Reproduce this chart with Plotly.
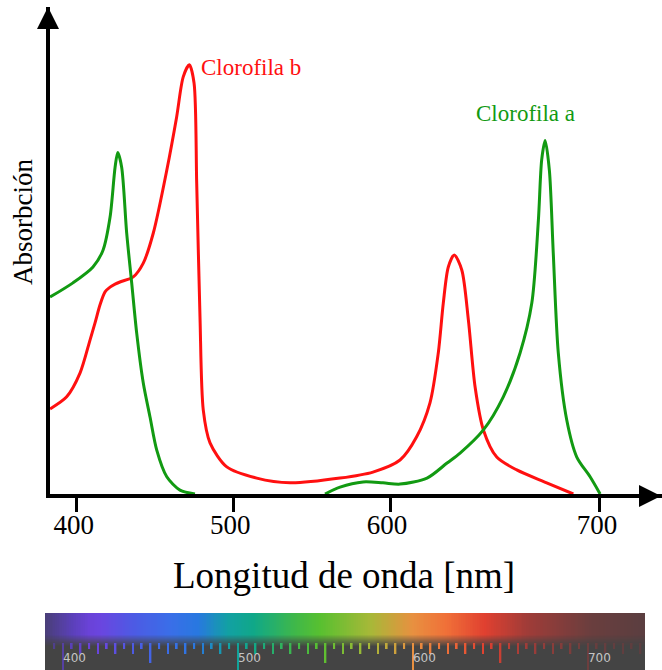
import plotly.graph_objects as go

# ---------------- data ----------------
# Chlorophyll a (green); None separates the two visible pieces
chl_a_nm = [383.0, 397.6, 410.4, 416.8, 421.3, 424.5, 426.2, 428.7, 431.9, 435.1,
            438.3, 442.5, 446.8, 451.1, 457.5, 465.9, 475.5, None,
            558.5, 568.1, 582.8, 595.5, 606.4, 623.6, 636.4, 644.7, 659.6, 672.3,
            683.0, 690.5, 694.7, 696.8, 699.0, 701.7, 704.2, 707.4, 712.8, 719.2,
            727.7, 734.1]
chl_a_abs = [0.458, 0.491, 0.528, 0.567, 0.644, 0.760, 0.794, 0.760, 0.607, 0.491,
             0.374, 0.258, 0.179, 0.102, 0.040, 0.009, 0.0, None,
             0.0, 0.016, 0.028, 0.026, 0.023, 0.037, 0.072, 0.095, 0.149, 0.226,
             0.328, 0.444, 0.637, 0.777, 0.822, 0.753, 0.560, 0.328, 0.172, 0.086,
             0.040, 0.0]

# Chlorophyll b (red)
chl_b_nm = [383.0, 393.6, 402.1, 408.5, 411.7, 414.9, 418.1, 421.3, 424.5, 427.6,
            436.1, 442.5, 448.9, 457.5, 463.8, 468.0, 471.9, 474.9, 476.6, 478.7,
            480.8, 485.1, 495.8, 514.9, 536.2, 568.1, 589.1, 606.4, 617.0, 625.5,
            630.8, 634.0, 637.2, 641.0, 645.8, 650.0, 654.3, 659.6, 668.1, 680.9,
            700.0, 717.0]
chl_b_abs = [0.198, 0.226, 0.281, 0.358, 0.398, 0.440, 0.470, 0.481, 0.488, 0.493,
             0.505, 0.537, 0.607, 0.753, 0.877, 0.970, 0.998, 0.956, 0.723, 0.412,
             0.195, 0.119, 0.063, 0.037, 0.026, 0.037, 0.051, 0.079, 0.133, 0.212,
             0.328, 0.444, 0.528, 0.556, 0.521, 0.405, 0.249, 0.149, 0.086, 0.056,
             0.026, 0.0]

# main axis ticks (positions as drawn in the picture)
axis_tick_vals = [400, 500, 600, 734]
axis_tick_labels = ["400", "500", "600", "700"]

# spectrum strip
spectrum_stops_nm = [390, 405, 415, 422, 440, 461, 477, 494, 509, 533, 547, 576,
                     600, 619, 641, 665, 702, 733]
spectrum_colors = ["#4a3f78", "#5a40b8", "#6a42d8", "#6a46e0", "#4d5ae4", "#3a6ee8",
                   "#2878e0", "#12a0a4", "#10a888", "#40b848", "#58c030", "#a8b838",
                   "#e89040", "#f07038", "#e04030", "#a03c38", "#6a3e3e", "#5a3e40"]
spectrum_label_vals = [400, 500, 600, 700]
spectrum_label_text = ["400", "500", "600", "700"]

# ---------------- figure ----------------
RED = "#ff1010"
GREEN = "#129a12"
SERIF = "Liberation Serif"

lo, hi = spectrum_stops_nm[0], spectrum_stops_nm[-1]
cscale = [[(v - lo) / (hi - lo), c] for v, c in zip(spectrum_stops_nm, spectrum_colors)]

strip_x = list(range(390, 734))
strip_rows = list(range(0, 58))
color_z = [[x for x in strip_x] for _ in strip_rows]


def shade(r):
    if r <= 24:
        return 1.0
    if r >= 36:
        return 0.0
    return (36 - r) / 12.0


shade_z = [[shade(r) for _ in strip_x] for r in strip_rows]

drip_x = list(range(395, 731, 5))
drip_len = [-(27 if v % 100 == 0 else 20 if v % 50 == 0 else 11 if v % 10 == 0 else 6)
            for v in drip_x]

fig = go.Figure()

fig.add_trace(go.Heatmap(x=strip_x, y=strip_rows, z=color_z, colorscale=cscale,
                         zmin=lo, zmax=hi, showscale=False, xaxis="x2", yaxis="y2",
                         hoverinfo="skip"))
fig.add_trace(go.Heatmap(x=strip_x, y=strip_rows, z=shade_z,
                         colorscale=[[0, "rgba(68,68,68,0)"], [1, "rgba(68,68,68,1)"]],
                         zmin=0, zmax=1, showscale=False, xaxis="x2", yaxis="y2",
                         hoverinfo="skip"))
fig.add_trace(go.Bar(x=drip_x, y=drip_len, base=27, width=1.0,
                     marker=dict(color=drip_x, colorscale=cscale, cmin=lo, cmax=hi,
                                 line=dict(width=0)),
                     xaxis="x2", yaxis="y2", showlegend=False, hoverinfo="skip"))

fig.add_trace(go.Scatter(x=chl_b_nm, y=chl_b_abs, mode="lines",
                         line=dict(color=RED, width=3, shape="spline", smoothing=0.8),
                         cliponaxis=False, showlegend=False, connectgaps=False))
fig.add_trace(go.Scatter(x=chl_a_nm, y=chl_a_abs, mode="lines",
                         line=dict(color=GREEN, width=3, shape="spline", smoothing=0.8),
                         cliponaxis=False, showlegend=False, connectgaps=False))

W, H = 662, 670
ML, MT = 44, 7
PW, PH = W - ML, H - MT


def px2paper_x(px):
    return (px - ML) / PW


def py2paper_y(py):
    return (H - py) / PH


fig.update_layout(
    width=W, height=H,
    margin=dict(l=ML, r=0, t=MT, b=0),
    paper_bgcolor="white", plot_bgcolor="rgba(0,0,0,0)",
    showlegend=False,
    xaxis=dict(domain=[px2paper_x(50), 1], range=[382.96, 773.6], anchor="y",
               showline=True, linecolor="black", linewidth=4,
               ticks="outside", ticklen=14, tickwidth=3, tickcolor="black",
               tickvals=axis_tick_vals, ticktext=axis_tick_labels,
               ticklabelstandoff=-10, ticklabelshift=-3,
               tickfont=dict(family=SERIF, size=27, color="black"),
               showgrid=False, zeroline=False),
    xaxis3=dict(overlaying="x", matches="x", anchor="y", side="bottom",
                ticks="inside", ticklen=13, tickwidth=3, tickcolor="black",
                tickvals=axis_tick_vals, showticklabels=False,
                showline=False, showgrid=False, zeroline=False),
    yaxis=dict(domain=[py2paper_y(494), 1], range=[0, 487 / 430], anchor="x",
               showline=True, linecolor="black", linewidth=4,
               showticklabels=False, ticks="", showgrid=False, zeroline=False),
    xaxis2=dict(domain=[px2paper_x(45), px2paper_x(645)], range=[389.7, 732.6],
                anchor="y2", showgrid=False, zeroline=False, showline=False, ticks="",
                tickvals=spectrum_label_vals, ticktext=spectrum_label_text,
                ticklabelposition="inside right",
                tickfont=dict(family="DejaVu Sans", size=12, color="#c4c4c4")),
    yaxis2=dict(domain=[0, py2paper_y(613)], range=[0, 57], anchor="x2",
                visible=False),
    annotations=[
        dict(text="Absorbción", xref="paper", yref="paper",
             x=px2paper_x(23), y=py2paper_y(222), textangle=-90, showarrow=False,
             font=dict(family=SERIF, size=27, color="black"),
             xanchor="center", yanchor="middle"),
        dict(text="Longitud de onda [nm]", xref="paper", yref="paper",
             x=px2paper_x(344), y=py2paper_y(575), showarrow=False,
             font=dict(family=SERIF, size=37, color="black"),
             xanchor="center", yanchor="middle"),
        dict(text="Clorofila b", xref="x", yref="y", x=478.1, y=0.991,
             showarrow=False, xanchor="left", yanchor="middle",
             font=dict(family=SERIF, size=23, color=RED)),
        dict(text="Clorofila a", xref="x", yref="y", x=653.6, y=0.886,
             showarrow=False, xanchor="left", yanchor="middle",
             font=dict(family=SERIF, size=23, color=GREEN)),
        dict(text="", xref="paper", yref="paper", x=px2paper_x(48), y=py2paper_y(7),
             showarrow=True, ax=0, ay=30, arrowhead=2, arrowsize=1.1, arrowwidth=4,
             arrowcolor="black"),
        dict(text="", xref="paper", yref="paper", x=px2paper_x(668), y=py2paper_y(496),
             showarrow=True, ax=-30, ay=0, arrowhead=2, arrowsize=1.1, arrowwidth=4,
             arrowcolor="black"),
    ],
)

fig.write_html("out.html", config={"displayModeBar": False},
               post_script="document.body.style.margin='0';document.body.style.padding='0';")
